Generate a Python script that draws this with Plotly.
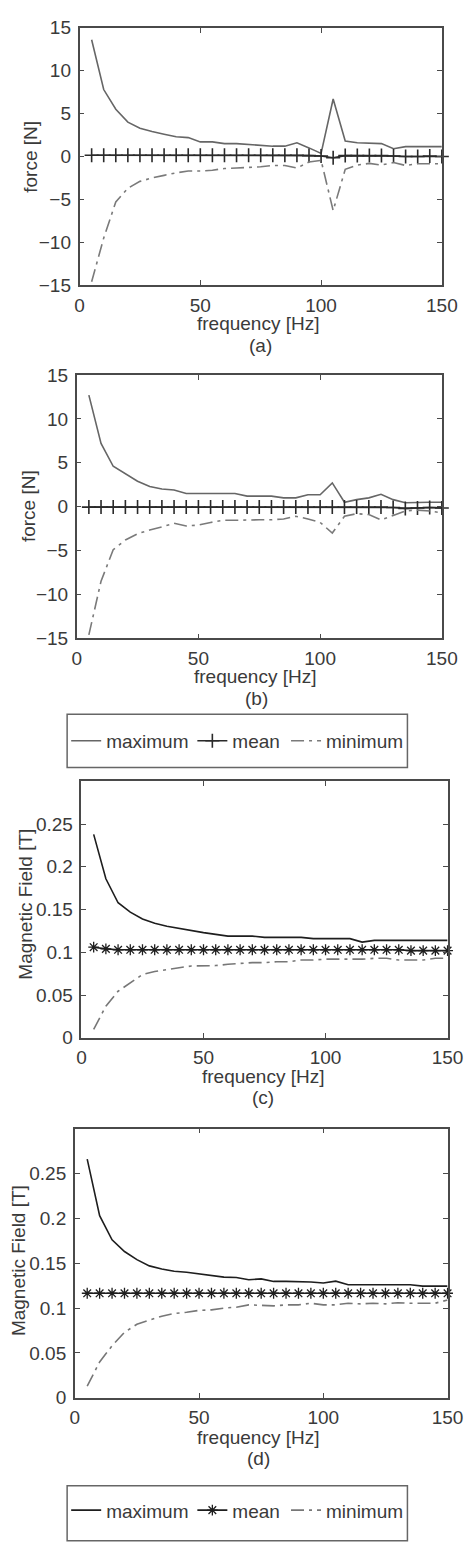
import plotly.graph_objects as go

W, H = 476, 1542

freq = [5, 10, 15, 20, 25, 30, 35, 40, 45, 50, 55, 60, 65, 70, 75,
        80, 85, 90, 95, 100, 105, 110, 115, 120, 125, 130, 135, 140, 145, 150]

# (a) force
a_max = [13.6, 7.8, 5.5, 4.0, 3.3, 2.9, 2.6, 2.3, 2.2, 1.7, 1.7, 1.5, 1.5, 1.4, 1.3,
         1.2, 1.2, 1.6, 1.0, 0.35, 6.7, 1.8, 1.6, 1.55, 1.5, 0.9, 1.15, 1.15, 1.15, 1.15]
a_mean = [0.15, 0.15, 0.15, 0.15, 0.15, 0.15, 0.15, 0.15, 0.15, 0.15, 0.15, 0.15, 0.15, 0.15, 0.15,
          0.15, 0.15, 0.15, 0.1, 0.05, -0.15, 0.1, 0.1, 0.1, 0.1, 0.05, 0.0, 0.0, 0.05, 0.0]
a_min = [-14.6, -9.5, -5.3, -3.7, -2.9, -2.5, -2.2, -1.9, -1.7, -1.7, -1.6, -1.4, -1.35, -1.3, -1.2,
         -1.05, -1.05, -1.35, -0.65, -0.45, -6.3, -1.5, -1.0, -0.8, -1.0, -0.7, -1.05, -0.85, -0.85, -0.85]

# (b) force
b_max = [12.7, 7.2, 4.6, 3.7, 2.9, 2.3, 2.0, 1.9, 1.5, 1.5, 1.5, 1.5, 1.5, 1.2, 1.2,
         1.2, 1.0, 1.0, 1.35, 1.35, 2.7, 0.5, 0.8, 1.0, 1.4, 0.8, 0.45, 0.5, 0.5, 0.5]
b_mean = [-0.05, -0.05, -0.05, -0.05, -0.05, -0.05, -0.05, -0.05, -0.05, -0.05, -0.05, -0.05, -0.05, -0.05, -0.05,
          -0.05, -0.05, -0.05, -0.05, -0.05, -0.05, -0.05, -0.05, -0.05, -0.05, -0.1, -0.2, -0.15, -0.1, -0.15]
b_min = [-14.6, -8.5, -4.9, -3.8, -3.1, -2.65, -2.3, -1.9, -2.2, -2.1, -1.8, -1.55, -1.55, -1.5, -1.5,
         -1.5, -1.4, -1.1, -1.4, -1.8, -3.0, -1.1, -0.8, -0.9, -1.5, -1.0, -0.5, -0.4, -0.5, -0.7]

# (c) magnetic field
c_max = [0.238, 0.186, 0.158, 0.147, 0.139, 0.134, 0.1305, 0.128, 0.125, 0.123, 0.121, 0.119, 0.119, 0.119, 0.1175,
         0.1175, 0.1175, 0.1175, 0.116, 0.116, 0.116, 0.116, 0.112, 0.114, 0.114, 0.114, 0.114, 0.114, 0.114, 0.114]
c_mean = [0.106, 0.104, 0.103, 0.103, 0.103, 0.103, 0.103, 0.103, 0.103, 0.103, 0.103, 0.103, 0.103, 0.103, 0.103,
          0.103, 0.103, 0.103, 0.103, 0.103, 0.103, 0.103, 0.103, 0.103, 0.103, 0.103, 0.102, 0.102, 0.102, 0.102]
c_min = [0.010, 0.037, 0.0545, 0.064, 0.074, 0.0775, 0.080, 0.082, 0.084, 0.084, 0.0845, 0.086, 0.087, 0.088, 0.088,
         0.089, 0.089, 0.091, 0.091, 0.092, 0.092, 0.092, 0.092, 0.093, 0.093, 0.091, 0.091, 0.091, 0.093, 0.093]

# (d) magnetic field
d_max = [0.266, 0.203, 0.176, 0.163, 0.154, 0.147, 0.1435, 0.141, 0.140, 0.138, 0.136, 0.1345, 0.134, 0.1315, 0.1325,
         0.1297, 0.1297, 0.1297, 0.129, 0.128, 0.130, 0.126, 0.126, 0.126, 0.126, 0.126, 0.126, 0.1245, 0.1245, 0.1245]
d_mean = [0.1165, 0.1165, 0.1165, 0.1165, 0.1165, 0.1165, 0.1165, 0.1165, 0.1165, 0.1165, 0.1165, 0.1165, 0.1165, 0.1165, 0.1165,
          0.1165, 0.1165, 0.1165, 0.1165, 0.1165, 0.1165, 0.1165, 0.1165, 0.1165, 0.1165, 0.1165, 0.1165, 0.1165, 0.1165, 0.1165]
d_min = [0.013, 0.040, 0.058, 0.073, 0.082, 0.0866, 0.091, 0.094, 0.0953, 0.0975, 0.098, 0.100, 0.101, 0.1036, 0.103,
         0.1025, 0.1036, 0.1036, 0.1054, 0.1036, 0.1036, 0.1054, 0.1047, 0.1054, 0.1047, 0.106, 0.1054, 0.1054, 0.1054, 0.109]

x_ticks = [0, 50, 100, 150]
force_ticks = [-15, -10, -5, 0, 5, 10, 15]
field_ticks = [0, 0.05, 0.1, 0.15, 0.2, 0.25]
field_ticktext = ["0", "0.05", "0.1", "0.15", "0.2", "0.25"]

names = ["maximum", "mean", "minimum"]

FONT = "Arial, Liberation Sans, sans-serif"
FS = 19
TXT = "#3a3a3a"
AX = "#4a4a4a"

# panel pixel boxes: (left, right, top, bottom)
panels = [
    (78, 457, 18, 279),
    (75, 457, 370, 637),
    (80, 463, 782, 1042),
    (73, 463, 1134, 1407),
]


def px_x(v):
    return v / W


def px_y(v):
    return 1 - v / H


fig = go.Figure()

data_sets = [
    (a_max, a_mean, a_min, "gray"),
    (b_max, b_mean, b_min, "gray"),
    (c_max, c_mean, c_min, "black"),
    (d_max, d_mean, d_min, "black"),
]

# legend ids per panel: (max, mean, min)
legend_ids = {0: ("legend", "legend3", "legend4"), 2: ("legend2", "legend5", "legend6")}

dash_min = "13px,5px,3px,5px"

for i, (mx, mn, mi, style) in enumerate(data_sets):
    xa = "x" if i == 0 else f"x{i+1}"
    ya = "y" if i == 0 else f"y{i+1}"
    show = i in legend_ids
    if style == "gray":
        c_max_col, c_mean_col, c_min_col = "#666666", "#2a2a2a", "#7a7a7a"
        mk = dict(symbol="cross-thin-open", size=10, color=c_mean_col,
                  line=dict(color="#2a2a2a", width=1.6))
    else:
        c_max_col, c_mean_col, c_min_col = "#1e1e1e", "#1e1e1e", "#777777"
        mk = dict(symbol="asterisk-open", size=9, color=c_mean_col,
                  line=dict(color="#1e1e1e", width=1.3))
    lg = legend_ids.get(i, (None, None, None))
    series = [
        dict(y=mx, mode="lines", line=dict(color=c_max_col, width=1.6)),
        dict(y=mn, mode="lines+markers", line=dict(color=c_mean_col, width=1.6),
             marker=mk, cliponaxis=False),
        dict(y=mi, mode="lines", line=dict(color=c_min_col, width=1.6, dash=dash_min)),
    ]
    for k, s in enumerate(series):
        extra = dict(legend=lg[k]) if show else {}
        fig.add_trace(go.Scatter(x=freq, name=names[k], xaxis=xa, yaxis=ya,
                                 showlegend=show, **s, **extra))

axis_common = dict(showline=True, linecolor=AX, linewidth=1.5, mirror="ticks",
                   ticks="inside", ticklen=5, tickwidth=1, tickcolor=AX,
                   showgrid=False, zeroline=False,
                   tickfont=dict(family=FONT, size=FS, color=TXT))

layout = dict(width=W, height=H, margin=dict(l=0, r=0, t=0, b=0),
              paper_bgcolor="white", plot_bgcolor="white",
              font=dict(family=FONT, size=FS, color=TXT))

for i, (l, r, t, b) in enumerate(panels):
    xk = "xaxis" if i == 0 else f"xaxis{i+1}"
    yk = "yaxis" if i == 0 else f"yaxis{i+1}"
    xa_anchor = "y" if i == 0 else f"y{i+1}"
    ya_anchor = "x" if i == 0 else f"x{i+1}"
    layout[xk] = dict(axis_common, domain=[px_x(l), px_x(r)], range=[0, 150],
                      tickvals=x_ticks, anchor=xa_anchor, ticklabelstandoff=2)
    if i < 2:
        layout[yk] = dict(axis_common, domain=[px_y(b), px_y(t)], range=[-15, 15],
                          tickvals=force_ticks, anchor=ya_anchor, ticklabelstandoff=3)
    else:
        layout[yk] = dict(axis_common, domain=[px_y(b), px_y(t)], range=[0, 0.3],
                          tickvals=field_ticks, ticktext=field_ticktext,
                          anchor=ya_anchor, ticklabelstandoff=3)

fig.update_layout(**layout)

# axis titles and panel labels
ann = []
ytitles = [("force [N]", 27, 149), ("force [N]", 24, 503),
           ("Magnetic Field [T]", 22, 907), ("Magnetic Field [T]", 14, 1268)]
for txt, x, y in ytitles:
    ann.append(dict(text=txt, x=px_x(x), y=px_y(y), xref="paper", yref="paper",
                    showarrow=False, textangle=-90, xanchor="center", yanchor="middle",
                    font=dict(family=FONT, size=FS, color=TXT)))
xtitles = [(265, 318, 267, 340, "(a)"), (262, 676, 263, 698, "(b)"),
           (270, 1081, 270, 1103, "(c)"), (265, 1447, 265, 1469, "(d)")]
for xt, yt, xl, yl, lab in xtitles:
    ann.append(dict(text="frequency [Hz]", x=px_x(xt), y=px_y(yt), xref="paper", yref="paper",
                    showarrow=False, xanchor="center", yanchor="middle",
                    font=dict(family=FONT, size=FS, color=TXT)))
    ann.append(dict(text=lab, x=px_x(xl), y=px_y(yl), xref="paper", yref="paper",
                    showarrow=False, xanchor="center", yanchor="middle",
                    font=dict(family=FONT, size=FS, color=TXT)))

# legend boxes
shapes = [
    dict(type="rect", xref="paper", yref="paper", x0=px_x(65), x1=px_x(421),
         y0=px_y(768), y1=px_y(714), line=dict(color="#666666", width=1.5)),
    dict(type="rect", xref="paper", yref="paper", x0=px_x(65), x1=px_x(421),
         y0=px_y(1552), y1=px_y(1496), line=dict(color="#666666", width=1.5)),
]

leg_common = dict(orientation="h", xanchor="left", yanchor="middle",
                  bgcolor="rgba(0,0,0,0)", borderwidth=0,
                  font=dict(family=FONT, size=FS, color=TXT))
leg_x = [64, 196, 294]
fig.update_layout(
    annotations=ann, shapes=shapes,
    legend=dict(leg_common, x=px_x(leg_x[0]), y=px_y(741)),
    legend3=dict(leg_common, x=px_x(leg_x[1]), y=px_y(741)),
    legend4=dict(leg_common, x=px_x(leg_x[2]), y=px_y(741)),
    legend2=dict(leg_common, x=px_x(leg_x[0]), y=px_y(1521)),
    legend5=dict(leg_common, x=px_x(leg_x[1]), y=px_y(1521)),
    legend6=dict(leg_common, x=px_x(leg_x[2]), y=px_y(1521)),
)

fig.write_html("out.html")
